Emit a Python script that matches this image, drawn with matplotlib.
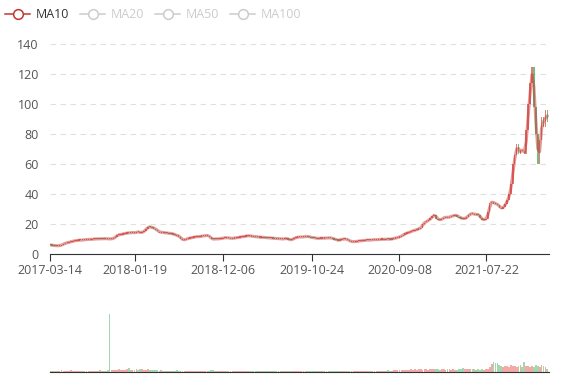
import numpy as np
import pandas as pd
import matplotlib
matplotlib.use('Agg')
import matplotlib.pyplot as plt
from matplotlib.lines import Line2D

plt.rcParams['font.family'] = ['Open Sans', 'DejaVu Sans']

# weekly closes, starting 2017-03-14
close = [
    6.0, 5.8, 5.6, 5.5, 5.5, 5.7, 6.2, 6.8, 7.4, 7.6,
    8.0, 8.4, 8.7, 8.9, 9.1, 9.3, 9.2, 9.4, 9.6, 9.7,
    9.8, 9.7, 9.9, 10.0, 10.1, 10.0, 10.2, 10.1, 10.3, 10.2,
    10.1, 10.0, 10.2, 10.6, 11.8, 12.6, 13.0, 13.1, 13.4, 13.8,
    14.1, 14.0, 14.3, 14.4, 13.9, 14.9, 14.6, 14.2, 14.7, 15.6,
    17.0, 18.2, 18.0, 17.6, 17.1, 16.2, 15.2, 14.4, 14.6, 14.2,
    14.0, 14.0, 13.6, 13.8, 13.1, 12.8, 12.2, 11.8, 10.2, 9.3,
    9.6, 10.2, 10.5, 10.8, 11.1, 11.3, 11.6, 11.5, 11.8, 12.0,
    12.1, 12.3, 12.4, 11.2, 10.0, 9.9, 10.1, 10.0, 10.2, 10.4,
    10.7, 10.9, 10.8, 10.6, 10.4, 10.5, 10.7, 10.9, 11.1, 11.3,
    11.6, 11.8, 12.0, 12.2, 12.0, 11.8, 11.6, 11.5, 11.3, 11.1,
    11.2, 11.0, 10.9, 10.8, 10.7, 10.7, 10.5, 10.4, 10.2, 10.3,
    10.1, 10.0, 10.2, 10.4, 9.8, 9.3, 9.9, 10.6, 11.1, 11.2,
    11.4, 11.3, 11.5, 11.7, 11.6, 11.3, 11.0, 10.8, 10.6, 10.4,
    10.5, 10.6, 10.5, 10.7, 10.6, 10.8, 10.7, 10.3, 9.8, 9.4,
    9.1, 9.6, 10.0, 9.9, 10.0, 9.2, 8.6, 8.2, 8.2, 8.4,
    8.6, 8.7, 8.9, 9.0, 9.2, 9.3, 9.2, 9.4, 9.5, 9.6,
    9.5, 9.7, 9.8, 9.9, 9.7, 10.0, 9.9, 9.8, 10.2, 10.5,
    10.8, 11.1, 11.6, 12.3, 13.1, 13.8, 14.2, 14.6, 15.2, 15.6,
    16.0, 16.5, 17.0, 17.6, 20.4, 21.2, 22.0, 22.7, 24.0, 25.2,
    26.4, 23.8, 23.0, 22.7, 23.6, 24.4, 24.6, 24.3, 24.9, 25.3,
    25.6, 26.0, 25.1, 24.4, 23.8, 23.6, 23.8, 25.0, 26.2, 27.1,
    26.8, 26.4, 26.5, 26.0, 24.2, 22.7, 23.0, 23.8, 28.2, 34.2,
    34.9, 33.8, 33.5, 32.7, 31.0, 30.4, 31.5, 33.8, 36.0, 40.5,
    47.0, 60.4, 66.0, 73.8, 67.0, 69.5, 69.0, 67.0, 83.0, 100.0,
    114.0, 125.0, 98.0, 80.0, 60.4, 76.0, 91.5, 84.9, 96.0, 88.2,
]

volume = [
    2, 2, 1.5, 2, 2.5, 2, 3, 2.5, 2, 2,
    2.5, 3, 2, 2, 1.5, 2, 2, 2.5, 2, 1.5,
    2, 1.5, 2, 2, 1.5, 2, 3, 2, 2, 2.5,
    3, 100, 4, 3.5, 4, 3, 5, 4, 3.5, 4,
    5, 7, 4, 3.5, 4, 5, 3, 4.5, 6, 3.5,
    4, 5, 3, 4, 3.5, 3, 4, 2.5, 3, 2,
    2, 2.5, 2, 1.5, 2, 2, 3, 2, 2.5, 2,
    2, 1.5, 1.5, 2, 1.5, 1.5, 2, 1, 1.5, 1.5,
    1.5, 1, 1.5, 1.5, 3, 3.5, 1.5, 1, 1.5, 1,
    1, 1.5, 1, 1, 1.5, 1, 1, 1.5, 1, 1,
    1, 1.5, 1, 1, 1, 1.5, 1, 1, 1, 1.5,
    1, 1, 1.5, 1, 1, 1, 1.5, 1, 1, 1,
    1.5, 1, 1, 1.5, 1, 1, 1.5, 1, 1, 1.5,
    1, 1, 1.5, 1, 1, 1.5, 1, 1, 1, 1.5,
    1.5, 1, 1, 1.5, 1, 1.5, 2, 1.5, 1, 1.5,
    1.5, 2, 1.5, 1, 1.5, 2, 1.5, 1.5, 1, 2,
    1.5, 2, 1.5, 2, 1.5, 2, 2.5, 1.5, 2, 2,
    2, 2.5, 2, 2, 2.5, 2, 3, 2, 2.5, 3,
    3, 3.5, 3, 4, 3.5, 3, 4, 3.5, 5, 4,
    5, 4, 4.5, 5, 4, 4.5, 5, 4, 5, 5.5,
    5, 4.5, 5, 4, 4.5, 5, 4, 4.5, 5, 4,
    4.5, 4, 4, 5, 4.5, 7, 5, 5.5, 6, 5,
    4.5, 5, 4, 4.5, 4, 4.5, 4, 5, 6, 8,
    14, 17, 15, 16, 12, 10, 9, 11, 10, 9,
    12, 10, 11, 9, 10, 12, 9, 18, 10, 11,
    9, 10, 8, 12, 11, 9, 12, 10, 9, 6,
]

tick_labels = ['2017-03-14', '2018-01-19', '2018-12-06', '2019-10-24', '2020-09-08', '2021-07-22']
legend_names = ['MA10', 'MA20', 'MA50', 'MA100']

start = pd.Timestamp('2017-03-14')
dates = pd.date_range(start, periods=len(close), freq='7D')
end = start + pd.Timedelta(days=1819)

df = pd.DataFrame({'close': close, 'volume': volume}, index=dates)
df['open'] = df['close'].shift(1).fillna(df['close'].iloc[0])
df['ma10'] = df['close'].rolling(2, min_periods=1).mean()

up_col = '#eb5454'
down_col = '#47b262'
is_up = df['close'] >= df['open']
cols = np.where(is_up, up_col, down_col)

fig = plt.figure(figsize=(5.77, 3.80), dpi=100)
ax = fig.add_axes([50 / 577, 1 - 254 / 380, 499 / 577, 210 / 380])
axv = fig.add_axes([50 / 577, 1 - 372 / 380, 499 / 577, 62 / 380])

# candles
body_low = np.minimum(df['open'], df['close'])
body_h = np.maximum(np.abs(df['close'] - df['open']), 0.8)
ax.bar(df.index, body_h, bottom=body_low - 0.2, width=5.5, color=cols, alpha=0.8, linewidth=0)
ax.plot(df.index, df['ma10'], color='#c23531', lw=2.2, alpha=0.5, solid_capstyle='round')

ax.set_xlim(start, end)
ax.set_ylim(0, 140)
ax.set_yticks(range(0, 141, 20))
ax.grid(axis='y', color='#e0e0e0', linestyle=(0, (5, 4)), lw=0.8)
ax.set_axisbelow(True)
ax.set_xticks(pd.to_datetime(tick_labels))
ax.set_xticklabels(tick_labels)
for s in ['top', 'right', 'left']:
    ax.spines[s].set_visible(False)
ax.spines['bottom'].set_color('#333333')
ax.tick_params(axis='y', length=0, labelsize=9, labelcolor='#555555', pad=8)
ax.tick_params(axis='x', length=5, color='#333333', labelsize=9, labelcolor='#555555', pad=2)

# volume
axv.bar(df.index, df['volume'], width=6.5, color=cols, alpha=0.5, linewidth=0)
axv.set_xlim(start, end)
axv.set_ylim(0, 107)
axv.set_xticks([])
axv.set_yticks([])
for s in ['top', 'right', 'left']:
    axv.spines[s].set_visible(False)
axv.spines['bottom'].set_color('#333333')

# legend
x0 = 5
y = 1 - 14 / 380
for i, name in enumerate(legend_names):
    c = '#c23531' if i == 0 else '#cccccc'
    tc = '#333333' if i == 0 else '#cccccc'
    fig.add_artist(Line2D([x0 / 577, (x0 + 25) / 577], [y, y], color=c, lw=1.1,
                          transform=fig.transFigure))
    fig.add_artist(Line2D([(x0 + 12.5) / 577], [y], marker='o', markersize=7, color=c,
                          markerfacecolor='white', markeredgewidth=1.1, transform=fig.transFigure))
    fig.text((x0 + 31) / 577, y, name, color=tc, fontsize=9, va='center', ha='left')
    x0 += 75

fig.savefig('out.png', dpi=100)
